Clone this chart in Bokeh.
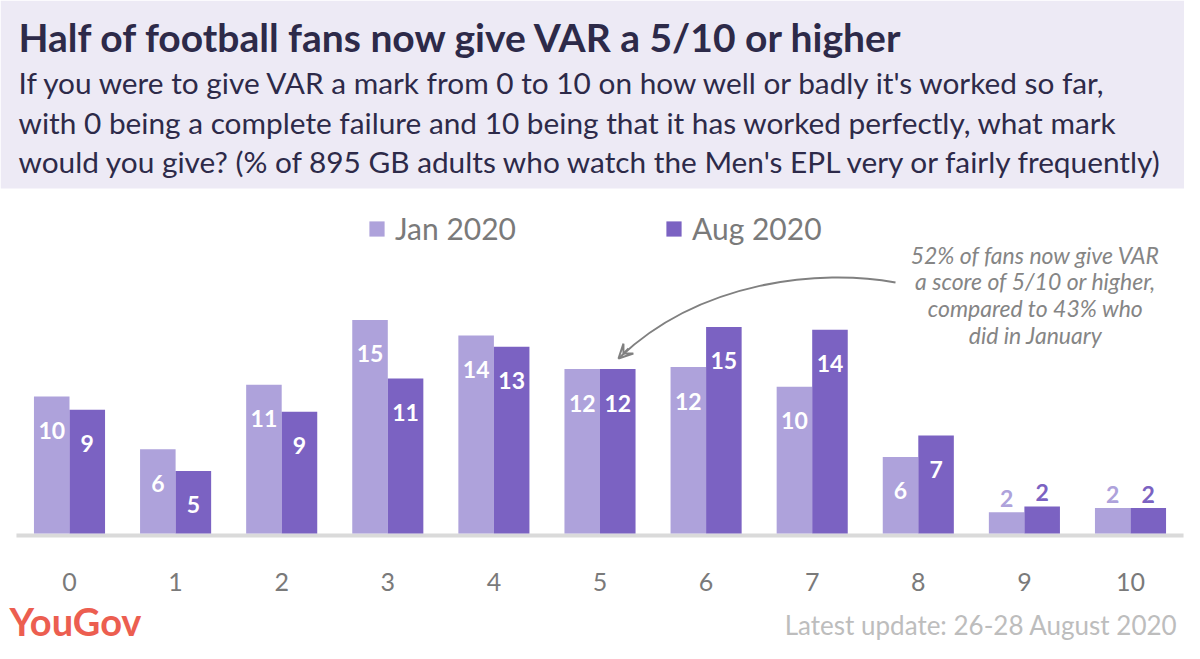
from bokeh.plotting import figure
from bokeh.models import (Range1d, Label, BoxAnnotation, Legend, LegendItem,
                          Arrow, VeeHead, ColumnDataSource)
from bokeh.core.properties import value
from bokeh.embed import file_html
from bokeh.resources import INLINE

# ---------------- data ----------------
categories = ["0", "1", "2", "3", "4", "5", "6", "7", "8", "9", "10"]
jan_2020 = [9.75, 6.0, 10.58, 15.2, 14.1, 11.7, 11.85, 10.45, 5.45, 1.52, 1.81]
aug_2020 = [8.8, 4.45, 8.66, 11.03, 13.3, 11.7, 14.7, 14.5, 6.98, 1.92, 1.81]
jan_labels = [10, 6, 11, 15, 14, 12, 12, 10, 6, 2, 2]
aug_labels = [9, 5, 9, 11, 13, 12, 15, 14, 7, 2, 2]
series_names = ["Jan 2020", "Aug 2020"]

title_text = "Half of football fans now give VAR a 5/10 or higher"
subtitle_lines = [
    "If you were to give VAR a mark from 0 to 10 on how well or badly it's worked so far,",
    "with 0 being a complete failure and 10 being that it has worked perfectly, what mark",
    "would you give? (% of 895 GB adults who watch the Men's EPL very or fairly frequently)",
]
note_lines = ["52% of fans now give VAR", "a score of 5/10 or higher,",
              "compared to 43% who", "did in January"]
footer_text = "Latest update: 26-28 August 2020"
brand_text = "YouGov"

# ---------------- style ----------------
LIGHT = "#AEA2DB"
DARK = "#7B62C2"
TITLE_COL = "#2D2A49"
BAND = "#EDEAF5"
GREY_TXT = "#7A7A7A"
FONT = "Lato"
FONT_V = value(FONT)

W, H = 1184, 643
PX_X = 106.1   # px per category
PX_Y = 14.05   # px per percentage point
X0 = 69.0      # px of category 0
BASE = 533.0   # px of value 0


def fx(px):
    return (px - X0) / PX_X


def fy(py):
    return (BASE - py) / PX_Y


p = figure(width=W, height=H, output_backend="svg", toolbar_location=None, tools="",
           x_range=Range1d(fx(0), fx(W)), y_range=Range1d(fy(H), fy(0)),
           x_axis_location=None, y_axis_location=None,
           min_border_left=0, min_border_right=0, min_border_top=0, min_border_bottom=0)
p.outline_line_color = None
p.grid.visible = False
p.background_fill_color = "white"
p.border_fill_color = "white"

# header band
p.add_layout(BoxAnnotation(bottom=fy(188), fill_color=BAND, fill_alpha=1.0,
                           line_color=None, level="underlay"))

x = list(range(len(categories)))
bw = 0.335
src = ColumnDataSource(dict(
    x=x,
    xj=[v - bw / 2 for v in x],
    xa=[v + bw / 2 for v in x],
    jan=jan_2020, aug=aug_2020))

# baseline (category axis line, just under the bars)
p.segment(x0=[-0.5], x1=[len(categories) - 0.5], y0=[-2 / PX_Y], y1=[-2 / PX_Y],
          line_color="#DADADA", line_width=4)

r_jan = p.vbar(x="xj", top="jan", width=bw, source=src, fill_color=LIGHT, line_color=None)
r_aug = p.vbar(x="xa", top="aug", width=bw, source=src, fill_color=DARK, line_color=None)


def add_values(xs, vals, labels, col):
    inside = dict(x=[], y=[], t=[])
    outside = dict(x=[], y=[], t=[])
    for xi, v, lab in zip(xs, vals, labels):
        if v >= 4:
            inside["x"].append(xi); inside["y"].append(v - 34 / PX_Y); inside["t"].append(str(lab))
        else:
            outside["x"].append(xi); outside["y"].append(v + 14 / PX_Y); outside["t"].append(str(lab))
    p.text(x="x", y="y", text="t", source=ColumnDataSource(inside), text_color="white",
           text_font=FONT_V, text_font_style="bold", text_font_size="23px",
           text_align="center", text_baseline="middle")
    p.text(x="x", y="y", text="t", source=ColumnDataSource(outside), text_color=col,
           text_font=FONT_V, text_font_style="bold", text_font_size="23px",
           text_align="center", text_baseline="middle")


add_values(src.data["xj"], jan_2020, jan_labels, LIGHT)
add_values(src.data["xa"], aug_2020, aug_labels, DARK)

# category tick labels
p.text(x=x, y=[fy(581)] * len(x), text=categories, text_color=GREY_TXT,
       text_font=FONT_V, text_font_size="25px", text_align="center", text_baseline="middle")

# legend
legend = Legend(items=[LegendItem(label=series_names[0], renderers=[r_jan]),
                       LegendItem(label=series_names[1], renderers=[r_aug])],
                orientation="horizontal", location=(367, 643 - 246),
                glyph_width=19, glyph_height=19, label_standoff=9, spacing=148,
                label_text_font=FONT, label_text_font_size="30px",
                label_text_color=GREY_TXT, padding=0, margin=0,
                border_line_color=None, background_fill_alpha=0)
p.add_layout(legend, "center")

# titles
p.add_layout(Label(x=fx(18), y=fy(36), text=title_text, text_font=FONT,
                   text_font_style="bold", text_font_size="39px", text_color=TITLE_COL,
                   text_baseline="middle"))
for i, line in enumerate(subtitle_lines):
    p.add_layout(Label(x=fx(18), y=fy(82 + 39.5 * i), text=line, text_font=FONT,
                       text_font_size="29.8px", text_color=TITLE_COL,
                       text_baseline="middle"))

# annotation
for i, line in enumerate(note_lines):
    p.add_layout(Label(x=fx(1035), y=fy(254 + 26.7 * i), text=line, text_font=FONT,
                       text_font_style="italic", text_font_size="23px", text_color="#858585",
                       text_align="center", text_baseline="middle"))

p.bezier(x0=[fx(895)], y0=[fy(282)], x1=[fx(619)], y1=[fy(357)],
         cx0=[fx(820)], cy0=[fy(268)], cx1=[fx(700)], cy1=[fy(280)],
         line_color="#808080", line_width=2)
p.add_layout(Arrow(x_start=fx(628), y_start=fy(348), x_end=fx(618), y_end=fy(358),
                   line_color="#808080", line_width=2,
                   end=VeeHead(size=14, line_color="#808080", line_width=2, fill_color=None)))

# footer
p.add_layout(Label(x=fx(9), y=fy(620), text=brand_text, text_font=FONT,
                   text_font_style="bold", text_font_size="38px", text_color="#EC5E50",
                   text_baseline="middle"))
p.add_layout(Label(x=fx(1177), y=fy(624), text=footer_text, text_font=FONT,
                   text_font_size="26px", text_color="#BDBDBD",
                   text_align="right", text_baseline="middle"))

open("out.html", "w").write(file_html(p, INLINE))
